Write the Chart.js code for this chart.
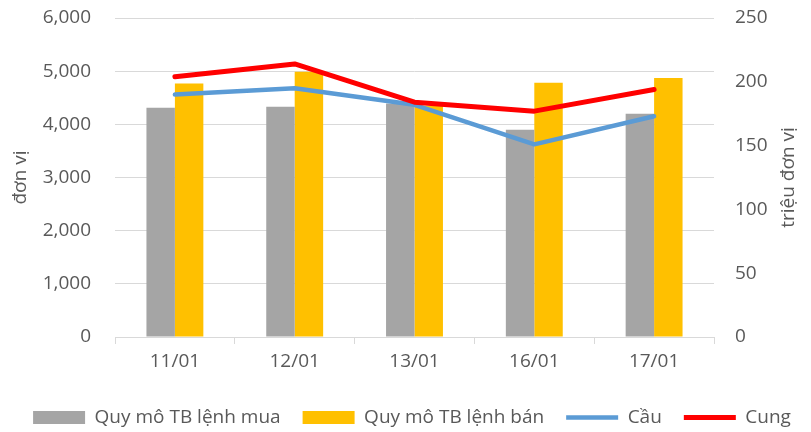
<!DOCTYPE html>
<html>
<head>
<meta charset="utf-8">
<script src="https://cdn.jsdelivr.net/npm/chart.js@4"></script>
<style>
  html, body { margin: 0; padding: 0; background: #fff; }
  #wrap { width: 811px; height: 432px; position: relative; }
</style>
</head>
<body>
<div id="wrap"><canvas id="myChart"></canvas></div>
<script>
//Data:
const categories = ["11/01", "12/01", "13/01", "16/01", "17/01"];
const buySize = [4310, 4330, 4390, 3900, 4200];   // Quy mô TB lệnh mua (đơn vị)
const sellSize = [4770, 4990, 4350, 4780, 4870];  // Quy mô TB lệnh bán (đơn vị)
const demand = [190, 195, 182, 151, 173];         // Cầu (triệu đơn vị)
const supply = [204, 214, 184, 177, 194];         // Cung (triệu đơn vị)
const leftTicks = [0, 1000, 2000, 3000, 4000, 5000, 6000];
const rightTicks = [0, 50, 100, 150, 200, 250];

const FONT = "'Open Sans', sans-serif";
const SIZE = 19;
const TEXT = "#595959";
const GRID = "#d9d9d9";

//Axis titles (right one reads bottom-to-top like the left one):
const axisTitles = {
    id: 'axisTitles',
    afterDraw(chart) {
        const {ctx, chartArea} = chart;
        const midY = (chartArea.top + chartArea.bottom) / 2;
        ctx.save();
        ctx.fillStyle = TEXT;
        ctx.font = SIZE + "px " + FONT;
        ctx.textAlign = "center";
        ctx.textBaseline = "middle";
        [[21, "đơn vị"], [789, "triệu đơn vị"]].forEach(([x, txt]) => {
            ctx.save();
            ctx.translate(x, midY);
            ctx.rotate(-Math.PI / 2);
            ctx.fillText(txt, 0, 0);
            ctx.restore();
        });
        ctx.restore();
    }
};

const ctx = document.getElementById("myChart").getContext("2d");

const chart = new Chart(ctx, {
    data: {
        labels: categories,
        datasets: [
            {
                type: 'bar',
                label: 'Quy mô TB lệnh mua',
                data: buySize,
                backgroundColor: '#a5a5a5',
                yAxisID: 'y',
                order: 2,
                pointStyle: 'rect'
            },
            {
                type: 'bar',
                label: 'Quy mô TB lệnh bán',
                data: sellSize,
                backgroundColor: '#ffc000',
                yAxisID: 'y',
                order: 2,
                pointStyle: 'rect'
            },
            {
                type: 'line',
                label: 'Cầu',
                data: demand,
                borderColor: '#5b9bd5',
                backgroundColor: '#5b9bd5',
                borderWidth: 4.5,
                borderCapStyle: 'round',
                borderJoinStyle: 'round',
                pointRadius: 0,
                yAxisID: 'y1',
                order: 1,
                pointStyle: 'line'
            },
            {
                type: 'line',
                label: 'Cung',
                data: supply,
                borderColor: '#ff0000',
                backgroundColor: '#ff0000',
                borderWidth: 5,
                borderCapStyle: 'round',
                borderJoinStyle: 'round',
                pointRadius: 0,
                yAxisID: 'y1',
                order: 0,
                pointStyle: 'line'
            }
        ]
    },
    options: {
        responsive: true,
        maintainAspectRatio: false,
        animation: false,
        categoryPercentage: 0.475,
        barPercentage: 1,
        layout: { padding: { top: 18, bottom: -5, left: 0, right: -13 } },
        plugins: {
            tooltip: { enabled: false },
            legend: {
                position: 'bottom',
                labels: {
                    usePointStyle: true,
                    pointStyleWidth: 52,
                    boxHeight: 13,
                    padding: 22,
                    color: TEXT,
                    font: { family: FONT, size: SIZE },
                    sort: (a, b) => a.datasetIndex - b.datasetIndex
                }
            }
        },
        scales: {
            x: {
                grid: {
                    offset: true,
                    drawOnChartArea: false,
                    drawTicks: true,
                    tickLength: 7,
                    color: GRID
                },
                border: { color: GRID },
                ticks: {
                    color: TEXT,
                    font: { family: FONT, size: SIZE },
                    padding: 6
                },
                afterFit: s => { s.height = 49; }
            },
            y: {
                position: 'left',
                min: 0,
                max: 6000,
                afterBuildTicks: s => { s.ticks = leftTicks.map(v => ({value: v})); },
                grid: { color: GRID, drawTicks: true, tickLength: 21, tickColor: 'rgba(0,0,0,0)' },
                border: { display: false },
                ticks: {
                    color: TEXT,
                    font: { family: FONT, size: SIZE },
                    padding: 3,
                    callback: v => v.toLocaleString('en-US')
                },
                afterFit: s => { s.width = 115; }
            },
            y1: {
                position: 'right',
                min: 0,
                max: 250,
                afterBuildTicks: s => { s.ticks = rightTicks.map(v => ({value: v})); },
                grid: { drawOnChartArea: false, drawTicks: true, tickLength: 18, tickColor: 'rgba(0,0,0,0)' },
                border: { display: false },
                ticks: {
                    color: TEXT,
                    font: { family: FONT, size: SIZE },
                    padding: 3
                },
                afterFit: s => { s.width = 110; }
            }
        }
    },
    plugins: [axisTitles]
});
</script>
</body>
</html>
